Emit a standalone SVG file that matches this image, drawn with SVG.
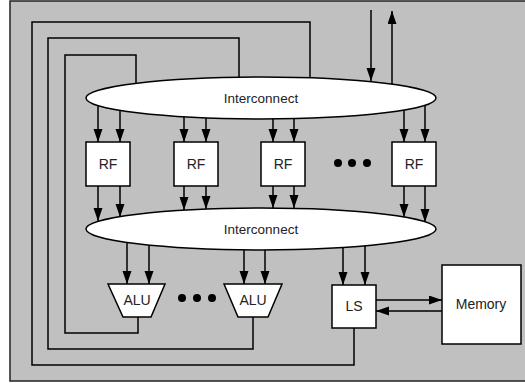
<svg xmlns="http://www.w3.org/2000/svg" width="525" height="383" viewBox="0 0 525 383">
<defs>
<style>
.ln{fill:none;stroke:#000;stroke-width:1.5}
.ar{fill:none;stroke:#000;stroke-width:1.5;marker-end:url(#ah)}
.box{fill:#fff;stroke:#000;stroke-width:1.5}
.t{font-family:"Liberation Sans",Arial,sans-serif;font-size:14px;fill:#222;text-anchor:middle}
.ic{font-size:13.5px}
.dot{fill:#000}
</style>
<marker id="ah" markerUnits="userSpaceOnUse" markerWidth="14" markerHeight="10" refX="13" refY="4.5" orient="auto">
<path d="M0,0 L13,4.5 L0,9 z" fill="#000"/>
</marker>
</defs>
<rect x="0" y="0" width="525" height="383" fill="#fff"/>
<rect x="10" y="1" width="530" height="380" fill="#c0c0c0" stroke="#222" stroke-width="1.5"/>
<g id="connectors">
<path class="ln" d="M138,317 V333 H65 V55 H136 V98"/>
<path class="ln" d="M253,317 V349 H48 V38 H239 V98"/>
<path class="ln" d="M354,328 V365 H32 V22 H310 V98"/>
<path class="ar" d="M371,10 V81"/>
<path class="ar" d="M392,98 V11"/>
<path class="ar" d="M98,98 V142"/>
<path class="ar" d="M120,98 V142"/>
<path class="ar" d="M184,98 V142"/>
<path class="ar" d="M206,98 V142"/>
<path class="ar" d="M273,98 V142"/>
<path class="ar" d="M294,98 V142"/>
<path class="ar" d="M404,98 V142"/>
<path class="ar" d="M425,98 V142"/>
<path class="ar" d="M98,186 V221"/>
<path class="ar" d="M120,186 V217"/>
<path class="ar" d="M184,186 V210"/>
<path class="ar" d="M206,186 V209"/>
<path class="ar" d="M273,186 V208"/>
<path class="ar" d="M294,186 V208"/>
<path class="ar" d="M404,186 V217"/>
<path class="ar" d="M425,186 V222"/>
<path class="ar" d="M127,229 V284"/>
<path class="ar" d="M149,229 V284"/>
<path class="ar" d="M244,229 V284"/>
<path class="ar" d="M265,229 V284"/>
<path class="ar" d="M343,229 V285"/>
<path class="ar" d="M365,229 V285"/>
<path class="ar" d="M376,300 H442"/>
<path class="ar" d="M442,311 H376"/>
</g>
<g id="interconnect1">
<ellipse class="box" cx="261" cy="98" rx="175" ry="21"/>
<text class="t ic" x="261" y="103">Interconnect</text>
</g>
<g id="interconnect2">
<ellipse class="box" cx="261" cy="229" rx="175" ry="21"/>
<text class="t ic" x="261" y="234">Interconnect</text>
</g>
<g id="rf1"><rect class="box" x="86" y="142" width="44" height="44"/><text class="t" x="108" y="169">RF</text></g>
<g id="rf2"><rect class="box" x="174" y="142" width="44" height="44"/><text class="t" x="196" y="169">RF</text></g>
<g id="rf3"><rect class="box" x="261" y="142" width="44" height="44"/><text class="t" x="283" y="169">RF</text></g>
<g id="rf4"><rect class="box" x="392" y="142" width="44" height="44"/><text class="t" x="414" y="169">RF</text></g>
<g id="dots1"><circle class="dot" cx="338" cy="163" r="4"/><circle class="dot" cx="352" cy="163" r="4"/><circle class="dot" cx="367" cy="163" r="4"/></g>
<g id="alu1"><path class="box" d="M108,284 H165 L151,317 H123 Z"/><text class="t" x="137" y="305">ALU</text></g>
<g id="alu2"><path class="box" d="M224,284 H282 L268,317 H238 Z"/><text class="t" x="253" y="305">ALU</text></g>
<g id="dots2"><circle class="dot" cx="182" cy="298" r="4"/><circle class="dot" cx="197" cy="298" r="4"/><circle class="dot" cx="212" cy="298" r="4"/></g>
<g id="ls"><rect class="box" x="332" y="285" width="44" height="43"/><text class="t" x="354" y="311">LS</text></g>
<g id="memory"><rect class="box" x="442" y="265" width="79" height="79"/><text class="t" x="481" y="309">Memory</text></g>
</svg>
